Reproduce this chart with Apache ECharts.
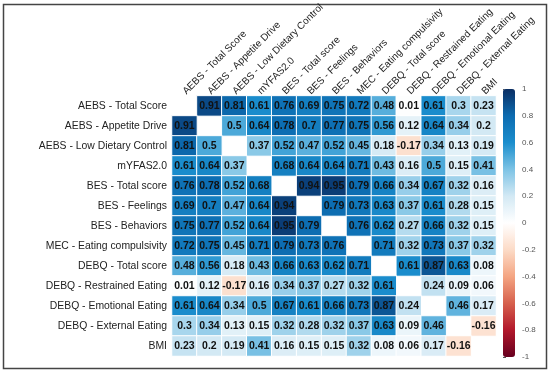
<!DOCTYPE html>
<html>
<head>
<meta charset="utf-8">
<script src="https://cdn.jsdelivr.net/npm/echarts@6/dist/echarts.min.js"></script>
<style>html,body{margin:0;padding:0;background:#fff}#c{width:550px;height:375px}</style>
</head>
<body>
<div id="c"></div>
<script>
var labels = ["AEBS - Total Score","AEBS - Appetite Drive","AEBS - Low Dietary Control","mYFAS2.0","BES - Total score","BES - Feelings","BES - Behaviors","MEC - Eating compulsivity","DEBQ - Total score","DEBQ - Restrained Eating","DEBQ - Emotional Eating","DEBQ - External Eating","BMI"];
// null = diagonal (blank)
var rowAebsTotal      = [null,0.91,0.81,0.61,0.76,0.69,0.75,0.72,0.48,0.01,0.61,0.3,0.23];
var rowAppetiteDrive  = [0.91,null,0.5,0.64,0.78,0.7,0.77,0.75,0.56,0.12,0.64,0.34,0.2];
var rowLowDietary     = [0.81,0.5,null,0.37,0.52,0.47,0.52,0.45,0.18,-0.17,0.34,0.13,0.19];
var rowMyfas          = [0.61,0.64,0.37,null,0.68,0.64,0.64,0.71,0.43,0.16,0.5,0.15,0.41];
var rowBesTotal       = [0.76,0.78,0.52,0.68,null,0.94,0.95,0.79,0.66,0.34,0.67,0.32,0.16];
var rowBesFeelings    = [0.69,0.7,0.47,0.64,0.94,null,0.79,0.73,0.63,0.37,0.61,0.28,0.15];
var rowBesBehaviors   = [0.75,0.77,0.52,0.64,0.95,0.79,null,0.76,0.62,0.27,0.66,0.32,0.15];
var rowMec            = [0.72,0.75,0.45,0.71,0.79,0.73,0.76,null,0.71,0.32,0.73,0.37,0.32];
var rowDebqTotal      = [0.48,0.56,0.18,0.43,0.66,0.63,0.62,0.71,null,0.61,0.87,0.63,0.08];
var rowRestrained     = [0.01,0.12,-0.17,0.16,0.34,0.37,0.27,0.32,0.61,null,0.24,0.09,0.06];
var rowEmotional      = [0.61,0.64,0.34,0.5,0.67,0.61,0.66,0.73,0.87,0.24,null,0.46,0.17];
var rowExternal       = [0.3,0.34,0.13,0.15,0.32,0.28,0.32,0.37,0.63,0.09,0.46,null,-0.16];
var rowBmi            = [0.23,0.2,0.19,0.41,0.16,0.15,0.15,0.32,0.08,0.06,0.17,-0.16,null];
var matrix = [rowAebsTotal,rowAppetiteDrive,rowLowDietary,rowMyfas,rowBesTotal,rowBesFeelings,rowBesBehaviors,rowMec,rowDebqTotal,rowRestrained,rowEmotional,rowExternal,rowBmi];

var data = [];
matrix.forEach(function(row, r){
  row.forEach(function(v, c){ if (v !== null) data.push([c, r, v]); });
});

var font = '"Liberation Sans", Arial, sans-serif';
var chart = echarts.init(document.getElementById('c'), null, {renderer:'canvas'});
chart.setOption({
  animation:false,
  backgroundColor:'#fff',
  textStyle:{fontFamily:font},
  graphic:[{type:'rect', shape:{x:3.5,y:4.5,width:543,height:364}, style:{fill:null, stroke:'#444', lineWidth:1.5}, silent:true}],
  grid:[
    {left:172, top:87, width:324, height:269},
    {left:503, top:89, width:12, height:268}
  ],
  xAxis:[
    {type:'category', data:labels, position:'top', gridIndex:0,
     axisLine:{show:false}, axisTick:{show:false}, splitLine:{show:false},
     axisLabel:{rotate:-45, fontSize:10, color:'#222', margin:3, interval:0, fontFamily:font}},
    {type:'value', gridIndex:1, show:false}
  ],
  yAxis:[
    {type:'category', data:labels, inverse:true, gridIndex:0,
     axisLine:{show:false}, axisTick:{show:false}, splitLine:{show:false},
     axisLabel:{fontSize:10.4, color:'#222', margin:5, interval:0, fontFamily:font}},
    {type:'value', gridIndex:1, min:-1, max:1, interval:0.2, position:'right',
     axisLine:{show:false}, splitLine:{show:false},
     axisTick:{show:true, length:3, lineStyle:{color:'#555'}},
     axisLabel:{fontSize:8, color:'#555', margin:7, fontFamily:font,
       formatter:function(v){ return String(+v.toFixed(1)); }}}
  ],
  visualMap:{
    type:'continuous', min:-1, max:1, calculable:false, orient:'vertical',
    left:503, top:89, itemWidth:12, itemHeight:268, padding:0, text:null, showLabel:false,
    seriesIndex:0,
    inRange:{color:['#67001F','#B2182B','#D6604D','#F4A582','#FCDBC7','#FFFFFF','#D3E9F4','#7DC3E5','#1B8ECD','#0C6BB0','#0B2E63']}
  },
  series:[{
    type:'heatmap', xAxisIndex:0, yAxisIndex:0, data:data,
    itemStyle:{borderColor:'#fff', borderWidth:1},
    label:{show:true, fontSize:10.5, fontWeight:'bold', color:'#111', fontFamily:font,
      formatter:function(p){ return String(p.value[2]); }},
    emphasis:{disabled:true}
  }]
});
</script>
</body>
</html>
